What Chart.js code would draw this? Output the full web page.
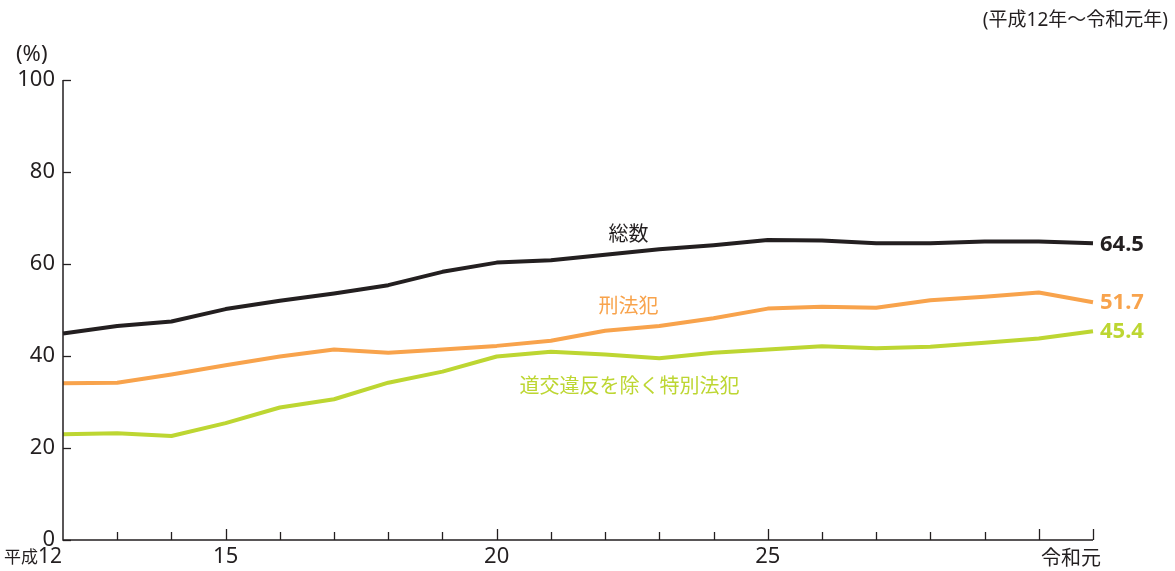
<!DOCTYPE html>
<html>
<head>
<meta charset="utf-8">
<script src="https://cdn.jsdelivr.net/npm/chart.js@4/dist/chart.umd.min.js"></script>
<style>
html,body{margin:0;padding:0;background:#fff;}
#wrap{width:1175px;height:571px;position:relative;}
</style>
</head>
<body>
<div id="wrap"><canvas id="c" width="1175" height="571"></canvas></div>
<script>
// ---- data ----
const categories = ['平成12','13','14','15','16','17','18','19','20','21','22','23','24','25','26','27','28','29','30','令和元'];
const shownLabels = {0:'平成12', 3:'15', 8:'20', 13:'25', 19:'令和元'};
const majorTicks = [3, 8, 13, 18, 19];
const totalRate   = [44.9, 46.5, 47.5, 50.2, 52.0, 53.6, 55.4, 58.3, 60.3, 60.8, 62.0, 63.2, 64.1, 65.2, 65.1, 64.5, 64.5, 64.9, 64.9, 64.5];
const penalRate   = [34.1, 34.2, 36.0, 38.0, 39.9, 41.4, 40.7, 41.4, 42.2, 43.3, 45.5, 46.5, 48.2, 50.3, 50.7, 50.5, 52.1, 52.9, 53.8, 51.7];
const specialRate = [23.0, 23.2, 22.6, 25.4, 28.8, 30.6, 34.2, 36.6, 39.9, 40.9, 40.3, 39.5, 40.7, 41.4, 42.1, 41.7, 42.0, 42.9, 43.8, 45.4];
const seriesNames = ['総数', '刑法犯', '道交違反を除く特別法犯'];
const endLabels = ['64.5', '51.7', '45.4'];
const yTicks = [0, 20, 40, 60, 80, 100];

const C_BLACK = '#231f20', C_ORANGE = '#f8a34c', C_GREEN = '#bdd632';
const FONT = '"Noto Sans", "Noto Sans CJK JP", sans-serif';
const CJK = '"Noto Sans CJK JP", sans-serif';

const decor = {
  id: 'decor',
  afterDraw(chart) {
    const ctx = chart.ctx, xs = chart.scales.x, ys = chart.scales.y;
    const bottom = ys.getPixelForValue(0), left = xs.getPixelForValue(0);
    ctx.save();
    // axis lines
    ctx.strokeStyle = C_BLACK; ctx.lineWidth = 1.5;
    ctx.beginPath();
    ctx.moveTo(left, ys.getPixelForValue(100)); ctx.lineTo(left, bottom);
    ctx.lineTo(xs.getPixelForValue(categories.length - 1), bottom);
    ctx.stroke();
    // x ticks (inward)
    ctx.lineWidth = 1.3;
    for (let i = 1; i < categories.length; i++) {
      const x = Math.round(xs.getPixelForValue(i)) + 0.5;
      const len = majorTicks.includes(i) ? 11 : 8;
      ctx.beginPath(); ctx.moveTo(x, bottom); ctx.lineTo(x, bottom - len); ctx.stroke();
    }
    // y ticks (inward)
    for (const v of yTicks) {
      const y = Math.round(ys.getPixelForValue(v)) + 0.5;
      ctx.beginPath(); ctx.moveTo(left, y); ctx.lineTo(left + 8, y); ctx.stroke();
    }
    // x labels
    ctx.fillStyle = C_BLACK; ctx.textBaseline = 'middle';
    for (const k in shownLabels) {
      const i = +k, x = xs.getPixelForValue(i), t = shownLabels[k];
      if (i === 0) {
        ctx.textAlign = 'right';
        ctx.font = '21px ' + FONT;
        const num = t.slice(2), w = ctx.measureText(num).width;
        ctx.fillText(num, x - 1, 557);
        ctx.font = '17px ' + CJK;
        ctx.fillText(t.slice(0, 2), x - 1 - w, 557);
      } else if (i === 19) {
        ctx.textAlign = 'center'; ctx.font = '20px ' + CJK;
        ctx.fillText(t, x - 22, 557);
      } else {
        ctx.textAlign = 'center'; ctx.font = '22px ' + FONT;
        ctx.fillText(t, x, 557);
      }
    }
    // unit labels
    ctx.font = '22px ' + FONT; ctx.textAlign = 'left';
    ctx.fillText('(%)', 16, 55);
    ctx.font = '19px ' + FONT; ctx.textAlign = 'right';
    ctx.fillText('(平成12年～令和元年)', 1168, 21);
    // series labels
    ctx.textAlign = 'center'; ctx.font = '20px ' + CJK;
    ctx.fillStyle = C_BLACK;  ctx.fillText(seriesNames[0], xs.getPixelForValue(10.43), ys.getPixelForValue(66.7));
    ctx.fillStyle = C_ORANGE; ctx.fillText(seriesNames[1], xs.getPixelForValue(10.43), ys.getPixelForValue(51.0));
    ctx.fillStyle = C_GREEN;  ctx.fillText(seriesNames[2], xs.getPixelForValue(10.45), ys.getPixelForValue(33.7));
    // end value labels
    ctx.textAlign = 'left'; ctx.font = 'bold 22px ' + FONT;
    const last = categories.length - 1;
    const ends = [totalRate[last], penalRate[last], specialRate[last]];
    const cols = [C_BLACK, C_ORANGE, C_GREEN];
    for (let s = 0; s < 3; s++) {
      ctx.fillStyle = cols[s];
      ctx.fillText(endLabels[s], xs.getPixelForValue(last) + 7, ys.getPixelForValue(ends[s]) + 1);
    }
    ctx.restore();
  }
};

new Chart(document.getElementById('c'), {
  type: 'line',
  data: {
    labels: categories,
    datasets: [
      { label: seriesNames[0], data: totalRate,   borderColor: C_BLACK },
      { label: seriesNames[1], data: penalRate,   borderColor: C_ORANGE },
      { label: seriesNames[2], data: specialRate, borderColor: C_GREEN }
    ]
  },
  options: {
    responsive: false,
    animation: false,
    events: [],
    layout: { padding: { top: 80, right: 82, left: 0, bottom: 0 } },
    elements: {
      line: { borderWidth: 4, tension: 0, borderJoinStyle: 'round', borderCapStyle: 'butt' },
      point: { radius: 0 }
    },
    plugins: { legend: { display: false }, tooltip: { enabled: false } },
    scales: {
      x: {
        offset: false,
        grid: { display: false, drawTicks: false },
        border: { display: false },
        ticks: { display: false },
        afterFit(s) { s.height = 31; }
      },
      y: {
        min: 0, max: 100,
        afterBuildTicks(s) { s.ticks = yTicks.map(v => ({ value: v })); },
        grid: { display: false, drawTicks: false },
        border: { display: false },
        ticks: { color: C_BLACK, font: { family: FONT, size: 22 }, padding: 8 },
        afterFit(s) { s.width = 63; }
      }
    }
  },
  plugins: [decor]
});
</script>
</body>
</html>
